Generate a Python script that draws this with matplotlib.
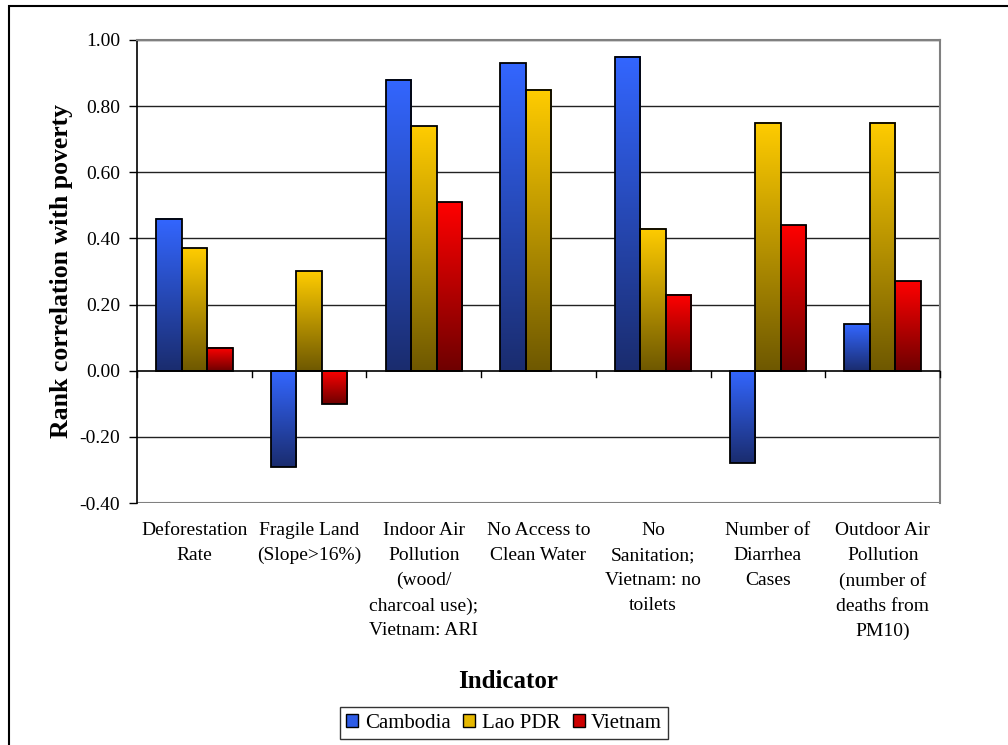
import numpy as np
import matplotlib
matplotlib.use("Agg")
import matplotlib.pyplot as plt
from matplotlib.colors import LinearSegmentedColormap
from matplotlib.patches import Rectangle, Patch

plt.rcParams['font.family'] = ['Liberation Serif', 'DejaVu Serif']

categories = [
    "Deforestation\nRate",
    "Fragile Land\n(Slope>16%)",
    "Indoor Air\nPollution\n(wood/\ncharcoal use);\nVietnam: ARI",
    "No Access to\nClean Water",
    "No\nSanitation;\nVietnam: no\ntoilets",
    "Number of\nDiarrhea\nCases",
    "Outdoor Air\nPollution\n(number of\ndeaths from\nPM10)",
]
series_names = ["Cambodia", "Lao PDR", "Vietnam"]
cambodia = [0.46, -0.29, 0.88, 0.93, 0.95, -0.28, 0.14]
lao_pdr = [0.37, 0.30, 0.74, 0.85, 0.43, 0.75, 0.75]
vietnam = [0.07, -0.10, 0.51, np.nan, 0.23, 0.44, 0.27]
yticks = [-0.40, -0.20, 0.00, 0.20, 0.40, 0.60, 0.80, 1.00]

# gradient (top colour, bottom colour) for each series
gradients = [("#3366FF", "#1A2C6E"), ("#FFCC00", "#6E5800"), ("#FF0000", "#6E0000")]
legend_colors = ["#2E5CE6", "#E6B800", "#CC0000"]

fig = plt.figure(figsize=(10.08, 7.45), dpi=100)
ax = fig.add_axes([137 / 1008, 1 - 503 / 745, (940 - 137) / 1008, (503 - 40) / 745])

n = len(categories)
x = np.arange(n)
bar_w = 1 / 4.5  # three bars plus a gap of 1.5 bar widths
values = [cambodia, lao_pdr, vietnam]

for k, (vals, (c_top, c_bot)) in enumerate(zip(values, gradients)):
    cmap = LinearSegmentedColormap.from_list(f"g{k}", [c_bot, c_top])
    grad = np.linspace(0, 1, 256).reshape(-1, 1)
    offs = x + (k - 1) * bar_w
    bars = ax.bar(offs, np.nan_to_num(vals), width=bar_w, facecolor="none",
                  edgecolor="black", linewidth=1.3, zorder=4)
    for bar, v in zip(bars, vals):
        if np.isnan(v):
            bar.set_visible(False)
            continue
        x0, y0 = bar.get_x(), bar.get_y()
        w, h = bar.get_width(), bar.get_height()
        ylo, yhi = min(y0, y0 + h), max(y0, y0 + h)
        ax.imshow(grad, cmap=cmap, origin="lower", aspect="auto",
                  extent=(x0, x0 + w, ylo, yhi), zorder=3, interpolation="bilinear")

ax.set_xlim(-0.5, n - 0.5)
ax.set_ylim(-0.40, 1.00)

# gridlines
for t in yticks:
    if t not in (0.0, -0.40):
        ax.axhline(t, color="#222222", linewidth=1.0, zorder=1)

# plot-area frame and axes
for side in ("top", "right"):
    ax.spines[side].set_color("#808080")
    ax.spines[side].set_linewidth(1.5)
ax.spines["left"].set_color("black")
ax.spines["left"].set_linewidth(1.2)
ax.spines["bottom"].set_visible(False)
ax.axhline(-0.40, color="#808080", linewidth=1.5, zorder=2)
ax.axhline(0.0, color="black", linewidth=1.2, zorder=5)

ax.set_yticks(yticks)
ax.set_yticklabels([f"{t:.2f}" for t in yticks], fontsize=14)
ax.tick_params(axis="y", direction="out", length=6, width=1.0, pad=6, colors="black")

# category boundary ticks on the zero line
ax.set_xticks([])
for b in np.arange(-0.5, n, 1.0):
    ax.plot([b, b], [0, -0.018], color="black", linewidth=1.0, zorder=5, clip_on=False)

# category labels under the plot area
for xi, lab in zip(x, categories):
    ax.text(xi, -0.458, lab, ha="center", va="top", fontsize=14,
            linespacing=1.6, transform=ax.transData)

ax.set_ylabel("Rank correlation with poverty", fontsize=18.5, fontweight="bold", labelpad=5)
fig.text(508 / 1008, 1 - 682 / 745, "Indicator", ha="center", va="center",
         fontsize=18, fontweight="bold")

handles = [Patch(facecolor=c, edgecolor="black", linewidth=1.0) for c in legend_colors]
leg = fig.legend(handles, series_names, loc="center",
                 bbox_to_anchor=(504 / 1008, 1 - 723 / 745), ncol=3, fontsize=15,
                 frameon=True, fancybox=False, handlelength=0.6, handleheight=0.6,
                 handletextpad=0.3, columnspacing=0.6, borderpad=0.3,
                 borderaxespad=0)
leg.get_frame().set_edgecolor("black")
leg.get_frame().set_linewidth(1.0)

# outer chart border
fig.patches.append(Rectangle((9 / 1008, -0.05), 1.1, 1 - 6 / 745 + 0.05,
                             transform=fig.transFigure, fill=False,
                             edgecolor="black", linewidth=1.5, zorder=0))

fig.savefig("out.png", dpi=100)
